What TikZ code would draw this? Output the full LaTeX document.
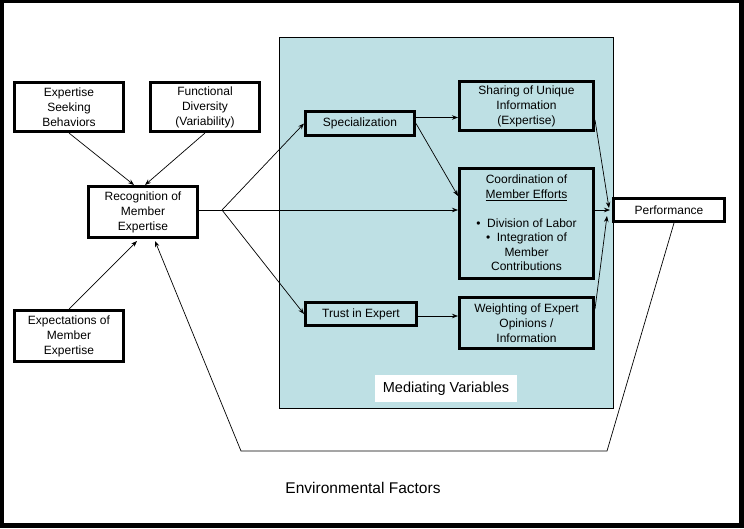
\documentclass[tikz,border=0pt]{standalone}
\usepackage{fontspec}
\setmainfont{Liberation Sans}
\usepackage{xcolor}
\usepackage{tikz}
\usetikzlibrary{arrows.meta,positioning,calc}
\definecolor{medblue}{RGB}{190,224,228}

\begin{document}
\begin{tikzpicture}[x=1pt, y=-1pt, >={Stealth[length=6pt,width=4.5pt]}]
        \tikzset{
            block/.style={draw, fill=white, rectangle, line width=3pt, align=center, inner sep=1pt, minimum width=109pt, minimum height=49pt, font=\fontsize{12}{15}\selectfont},
            inblock/.style={block, fill=none, minimum width=134pt},
            conn/.style={->, line width=0.7pt},
            medarea/.style={draw, fill=medblue, line width=0.8pt, minimum width=334pt, minimum height=371pt, inner sep=0pt}
        }

        % Frame
        \fill [black] (0,0) rectangle (744,528);
        \fill [white] (4,3) rectangle (739,523);
        \useasboundingbox (0,0) rectangle (744,528);

        % Mediating area
        \node [medarea] (med) at (446,222.5) {};
        \node [fill=white, minimum width=142pt, minimum height=27pt, inner sep=0pt, font=\fontsize{14.5}{17}\selectfont, above=6pt of med.south] (medlabel) {Mediating Variables};

        % Nodes
        \node [block] (esb) at (69,107) {Expertise\\Seeking\\Behaviors};
        \node [block, right=24pt of esb] (fd) {Functional\\Diversity\\(Variability)};
        \node [block, minimum height=51pt] (rec) at (143,212) {Recognition of\\Member\\Expertise};
        \node [block, minimum height=51pt] (exp) at (69,336) {Expectations of\\Member\\Expertise};

        \node [block, fill=none, minimum height=24pt] (spec) at (360,123.5) {Specialization};
        \node [block, fill=none, minimum width=111pt, minimum height=23pt] (trust) at (361,314) {Trust in Expert};
        \node [inblock] (share) at (526.5,106) {Sharing of Unique\\Information\\(Expertise)};
        \node [inblock, minimum height=110pt, font=\fontsize{12}{14.5}\selectfont] (coord) at (526.5,223) {Coordination of\\\underline{Member Efforts}\\[14.5pt]\textbullet\ \ Division of Labor\\\textbullet\ \ Integration of\\Member\\Contributions};
        \node [inblock, minimum height=51pt] (weight) at (526.5,323) {Weighting of Expert\\Opinions /\\Information};
        \node [block, minimum width=111pt, minimum height=23pt] (perf) at (669,210) {Performance};

        \node [font=\fontsize{15.5}{18}\selectfont] (env) at (363,488) {Environmental Factors};

        % Connections
        \draw [conn] (esb.south) -- ($(rec.north)+(-9,0)$);
        \draw [conn] (fd.south) -- ($(rec.north)+(2,0)$);
        \draw [conn] (exp.north) -- ($(rec.south)+(-6,2)$);

        \coordinate (split) at ($(rec.east)+(23,-2)$);
        \draw [line width=0.7pt] ($(rec.east)+(0,-2)$) -- (split);
        \draw [conn] (split) -- (spec.west);
        \draw [conn] (split) -- (split -| coord.west);
        \draw [conn] (split) -- (trust.west);

        \coordinate (sp1) at ($(spec.east)+(0,-6)$);
        \draw [conn] (sp1) -- (sp1 -| share.west);
        \draw [conn] (spec.east) -- ($(coord.west)+(0,-27)$);
        \coordinate (tr1) at ($(trust.east)+(0,2)$);
        \draw [conn] (tr1) -- (tr1 -| weight.west);

        \draw [conn] ($(share.east)+(0,14)$) -- ($(perf.west)+(-3,-2)$);
        \draw [conn] (split -| coord.east) -- ($(perf.west)+(-2,0)$);
        \draw [conn] ($(weight.east)+(0,-14)$) -- ($(perf.west)+(-5,6)$);

        % Feedback
        \coordinate (fb1) at (607,451);
        \coordinate (fb2) at (241,451);
        \draw [conn] ($(perf.south)+(5,0)$) -- (fb1) -- (fb2) -- ($(rec.south)+(12,2)$);
\end{tikzpicture}
\end{document}
